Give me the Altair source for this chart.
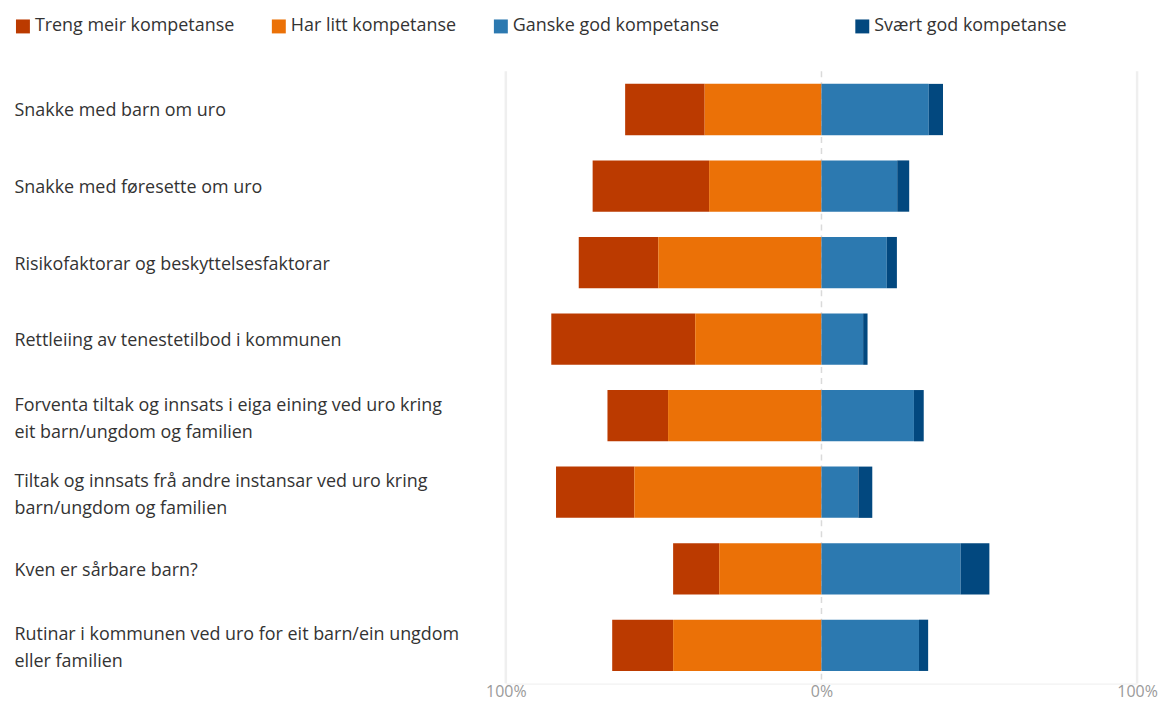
import altair as alt
import pandas as pd

categories = [
    "Snakke med barn om uro",
    "Snakke med føresette om uro",
    "Risikofaktorar og beskyttelsesfaktorar",
    "Rettleiing av tenestetilbod i kommunen",
    "Forventa tiltak og innsats i eiga eining ved uro kring\neit barn/ungdom og familien",
    "Tiltak og innsats frå andre instansar ved uro kring\nbarn/ungdom og familien",
    "Kven er sårbare barn?",
    "Rutinar i kommunen ved uro for eit barn/ein ungdom\neller familien",
]
series = ["Treng meir kompetanse", "Har litt kompetanse", "Ganske god kompetanse", "Svært god kompetanse"]
colors = ["#BB3A00", "#EB7107", "#2C79B0", "#02487F"]

treng = [25.2, 36.9, 25.2, 45.6, 19.2, 24.8, 14.6, 19.3]
litt = [37.0, 35.6, 51.7, 40.0, 48.6, 59.3, 32.4, 47.0]
ganske = [34.0, 24.0, 20.7, 13.2, 29.3, 11.7, 44.1, 30.9]
svaert = [4.5, 3.8, 3.2, 1.4, 3.1, 4.4, 9.1, 2.9]

grid_values = [-100, 100]

rows = []
for i, c in enumerate(categories):
    t, l, g, s = treng[i], litt[i], ganske[i], svaert[i]
    rows.append({"cat": c, "serie": series[0], "start": -(t + l), "end": -l, "value": t})
    rows.append({"cat": c, "serie": series[1], "start": -l, "end": 0, "value": l})
    rows.append({"cat": c, "serie": series[2], "start": 0, "end": g, "value": g})
    rows.append({"cat": c, "serie": series[3], "start": g, "end": g + s, "value": s})
df = pd.DataFrame(rows)

FONT = "Segoe UI, Open Sans, sans-serif"

xscale = alt.Scale(domain=[-100, 100], nice=False, zero=False)

grid = alt.Chart(pd.DataFrame({"v": grid_values})).mark_rule(
    color="#EFEFEF", strokeWidth=2.5
).encode(x=alt.X("v:Q", scale=xscale))

zero = alt.Chart(pd.DataFrame({"v": [0]})).mark_rule(
    color="#DADADA", strokeWidth=1.5, strokeDash=[6, 5]
).encode(x=alt.X("v:Q", scale=xscale))

bars = alt.Chart(df).mark_bar().encode(
    y=alt.Y(
        "cat:N",
        sort=categories,
        title=None,
        scale=alt.Scale(paddingInner=0.33, paddingOuter=0.165),
        axis=alt.Axis(
            labelAlign="left",
            labelPadding=494,
            ticks=False,
            tickSize=0,
            domain=False,
            labelFontSize=18,
            labelFont=FONT,
            labelColor="#333333",
            labelLimit=480,
            labelLineHeight=27,
            labelOffset={"condition": {"test": "indexof(datum.value, '\\n') >= 0", "value": -10}, "value": 2},
            labelExpr="split(datum.label, '\\n')",
        ),
    ),
    x=alt.X(
        "start:Q",
        scale=xscale,
        title=None,
        axis=alt.Axis(
            values=[-100, 0, 100],
            grid=False,
            ticks=False,
            domain=True,
            domainColor="#EEEEEE",
            labelFlush=False,
            labelFontSize=16,
            labelFont=FONT,
            labelColor="#9A9A9A",
            labelPadding=0,
            labelExpr="abs(datum.value) + '%'",
        ),
    ),
    x2="end:Q",
    color=alt.Color(
        "serie:N",
        scale=alt.Scale(domain=series, range=colors),
        title=None,
        legend=alt.Legend(
            orient="none",
            legendX=-494,
            legendY=-54,
            direction="horizontal",
            symbolType="square",
            symbolSize=196,
            symbolStrokeWidth=0,
            labelFontSize=18,
            labelFont=FONT,
            labelColor="#333333",
            labelOffset=3,
            columnPadding=35,
            labelLimit=400,
            labelExpr="datum.label == 'Ganske god kompetanse' ? datum.label + '\u2003\u2003\u2003\u2003\u2003\u2002\u200b' : datum.label",
        ),
    ),
)

chart = alt.layer(grid, zero, bars).properties(
    width=634,
    height=615,
    padding={"left": 500, "top": 62, "right": 21, "bottom": 22},
    autosize=alt.AutoSizeParams(type="none"),
).configure_view(stroke=None)

chart.save("out.html", embed_options={"renderer": "svg", "actions": False})
